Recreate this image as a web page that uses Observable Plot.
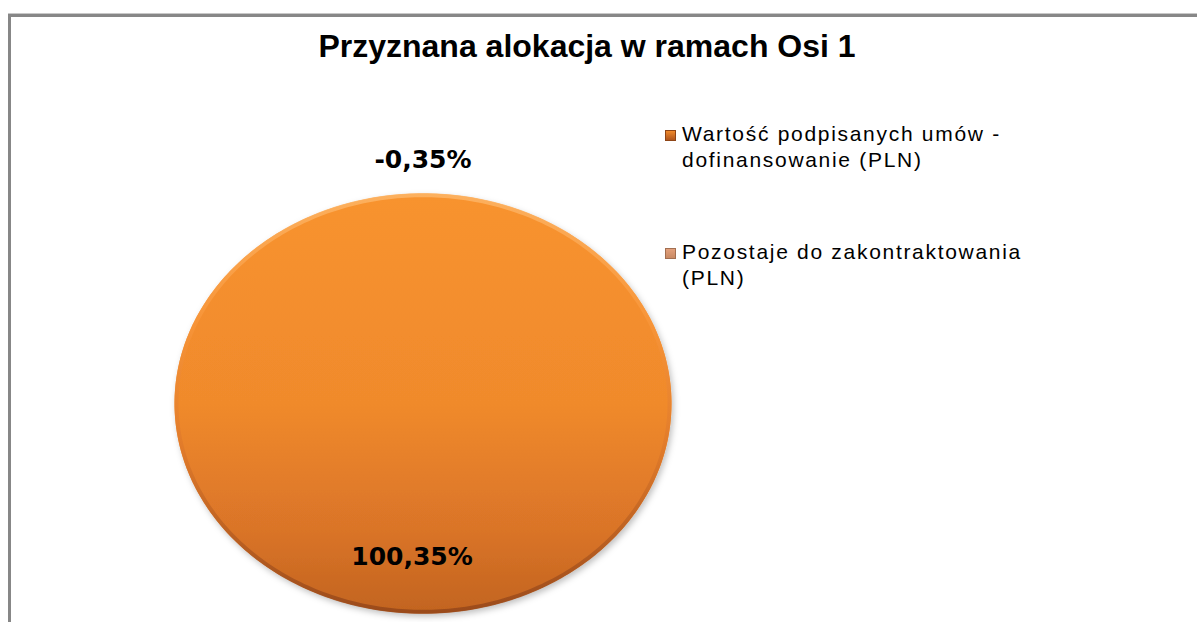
<!DOCTYPE html>
<html><head><meta charset="utf-8">
<script src="https://cdn.jsdelivr.net/npm/d3@7"></script>
<script src="https://cdn.jsdelivr.net/npm/@observablehq/plot@0.6"></script>
<style>
html,body{margin:0;padding:0;background:#fff;}
#wrap{position:relative;width:1197px;height:622px;overflow:hidden;background:#fff;}
#bt{position:absolute;left:8px;top:13px;width:1189px;height:4px;background:#878787;border-top:1px solid #c8c8c8;box-sizing:border-box;}
#bl{position:absolute;left:8px;top:14px;width:3px;height:608px;background:#878787;}
#title{position:absolute;left:0;width:1174px;top:28px;text-align:center;font:bold 32px "Liberation Sans",Arial,sans-serif;color:#000;white-space:nowrap;}
#chart{position:absolute;left:0;top:0;}
.li{position:absolute;left:682px;width:370px;font:21px/26px "Liberation Sans",Arial,sans-serif;letter-spacing:1.7px;color:#000;}
.sw{position:absolute;left:665px;width:11px;height:11px;box-sizing:border-box;}
</style>
</head><body>
<div id="wrap">
  <div id="bt"></div><div id="bl"></div>
  <div id="title"></div>
  <div id="chart"></div>
  <div id="legend"></div>
</div>
<script>
// ---- data ----
const title = "Przyznana alokacja w ramach Osi 1";
const categories = ["Wartość podpisanych umów - dofinansowanie (PLN)", "Pozostaje do zakontraktowania (PLN)"];
const values = [100.35, -0.35]; // percent shares as shown by the labels
const colors = ["#F08A2C", "#E3A07C"];

document.getElementById("title").textContent = title;

// pie layout (negative share has no visible area)
const slices = d3.pie().sort(null).value(d => Math.max(0, d.value))(
  categories.map((c, i) => ({category: c, value: values[i], color: colors[i]}))
);

const pts = [];
const rim = [];
slices.forEach((s, i) => {
  const span = s.endAngle - s.startAngle;
  if (span <= 0) return;
  const n = Math.max(2, Math.round(span / (2 * Math.PI) * 360));
  const full = span >= 2 * Math.PI - 1e-9;
  if (!full) pts.push({slice: i, x: 0, y: 0});
  for (let k = 0; k <= n; k++) {
    const a = s.startAngle + span * k / n;
    pts.push({slice: i, x: Math.sin(a), y: Math.cos(a)});
    rim.push({slice: i, x: 0.992 * Math.sin(a), y: 0.992 * Math.cos(a)});
  }
  if (!full) pts.push({slice: i, x: 0, y: 0});
});

const fmt = v => v.toFixed(2).replace(".", ",") + "%";
const labels = slices.map(s => {
  const a = (s.startAngle + s.endAngle) / 2;
  const frac = (s.endAngle - s.startAngle) / (2 * Math.PI);
  const inside = frac > 0.05;
  const r = inside ? 0.73 : 1.16;
  return {x: r * Math.sin(a), y: r * Math.cos(a), text: fmt(s.data.value), inside};
});

const chart = Plot.plot({
  width: 1197, height: 622,
  marginLeft: 174, marginRight: 526, marginTop: 193, marginBottom: 9,
  style: {background: "transparent", overflow: "visible"},
  x: {domain: [-1, 1], axis: null},
  y: {domain: [-1, 1], axis: null},
  marks: [
    Plot.line(pts, {x: "x", y: "y", z: "slice", fill: colors[0], stroke: "none", curve: "linear"}),
    Plot.line(rim, {x: "x", y: "y", z: "slice", fill: "none", stroke: "#E07A2A", strokeWidth: 4, strokeOpacity: 0.85}),
    Plot.text(labels.filter(d => d.inside), {x: "x", y: "y", text: "text", dx: -11, fontSize: 25, fontWeight: "bold", fontFamily: "DejaVu Sans", fill: "#000"}),
    Plot.text(labels.filter(d => !d.inside), {x: "x", y: "y", text: "text", fontSize: 25, fontWeight: "bold", fontFamily: "DejaVu Sans", fill: "#000"})
  ]
});

const svg = d3.select(chart);
const defs = svg.insert("defs", ":first-child");
const pg = defs.append("linearGradient").attr("id", "pieGrad").attr("x1", 0).attr("y1", 0).attr("x2", 0).attr("y2", 1);
pg.append("stop").attr("offset", 0).attr("stop-color", "#F8932F");
pg.append("stop").attr("offset", 0.5).attr("stop-color", colors[0]);
pg.append("stop").attr("offset", 0.8).attr("stop-color", "#DA7428");
pg.append("stop").attr("offset", 1).attr("stop-color", "#C2641F");
const rg = defs.append("linearGradient").attr("id", "rimGrad").attr("x1", 0).attr("y1", 0).attr("x2", 0).attr("y2", 1);
rg.append("stop").attr("offset", 0).attr("stop-color", "#FDB566");
rg.append("stop").attr("offset", 0.3).attr("stop-color", "#F8963A");
rg.append("stop").attr("offset", 0.6).attr("stop-color", "#E07A2A");
rg.append("stop").attr("offset", 1).attr("stop-color", "#94461A");
const f = defs.append("filter").attr("id", "sh").attr("x", "-10%").attr("y", "-10%").attr("width", "120%").attr("height", "120%");
f.append("feDropShadow").attr("dx", 2).attr("dy", 3).attr("stdDeviation", 3).attr("flood-color", "#000").attr("flood-opacity", 0.25);

// apply gradients to the two line marks (pie body, rim)
const lineGroups = svg.selectAll('g[aria-label="line"]').nodes();
if (lineGroups[0]) {
  d3.select(lineGroups[0]).attr("filter", "url(#sh)");
  d3.select(lineGroups[0]).attr("fill", "url(#pieGrad)");
  d3.select(lineGroups[0]).selectAll("path").attr("fill", "url(#pieGrad)");
}
if (lineGroups[1]) {
  d3.select(lineGroups[1]).attr("stroke", "url(#rimGrad)");
  d3.select(lineGroups[1]).selectAll("path").attr("stroke", "url(#rimGrad)");
}

document.getElementById("chart").appendChild(chart);

// legend
const legend = document.getElementById("legend");
const tops = [121, 239];
categories.forEach((c, i) => {
  const sw = document.createElement("div");
  sw.className = "sw";
  sw.style.top = (tops[i] + 9) + "px";
  const base = d3.color(colors[i]);
  const dark = i === 0 ? d3.color("#B0551C") : d3.color("#C98A64");
  sw.style.background = `linear-gradient(${base.formatHex()}, ${dark.formatHex()})`;
  sw.style.border = `1px solid ${dark.darker(0.6).formatHex()}`;
  legend.appendChild(sw);
  const t = document.createElement("div");
  t.className = "li";
  t.style.top = tops[i] + "px";
  t.textContent = c;
  legend.appendChild(t);
});
</script>
</body></html>
